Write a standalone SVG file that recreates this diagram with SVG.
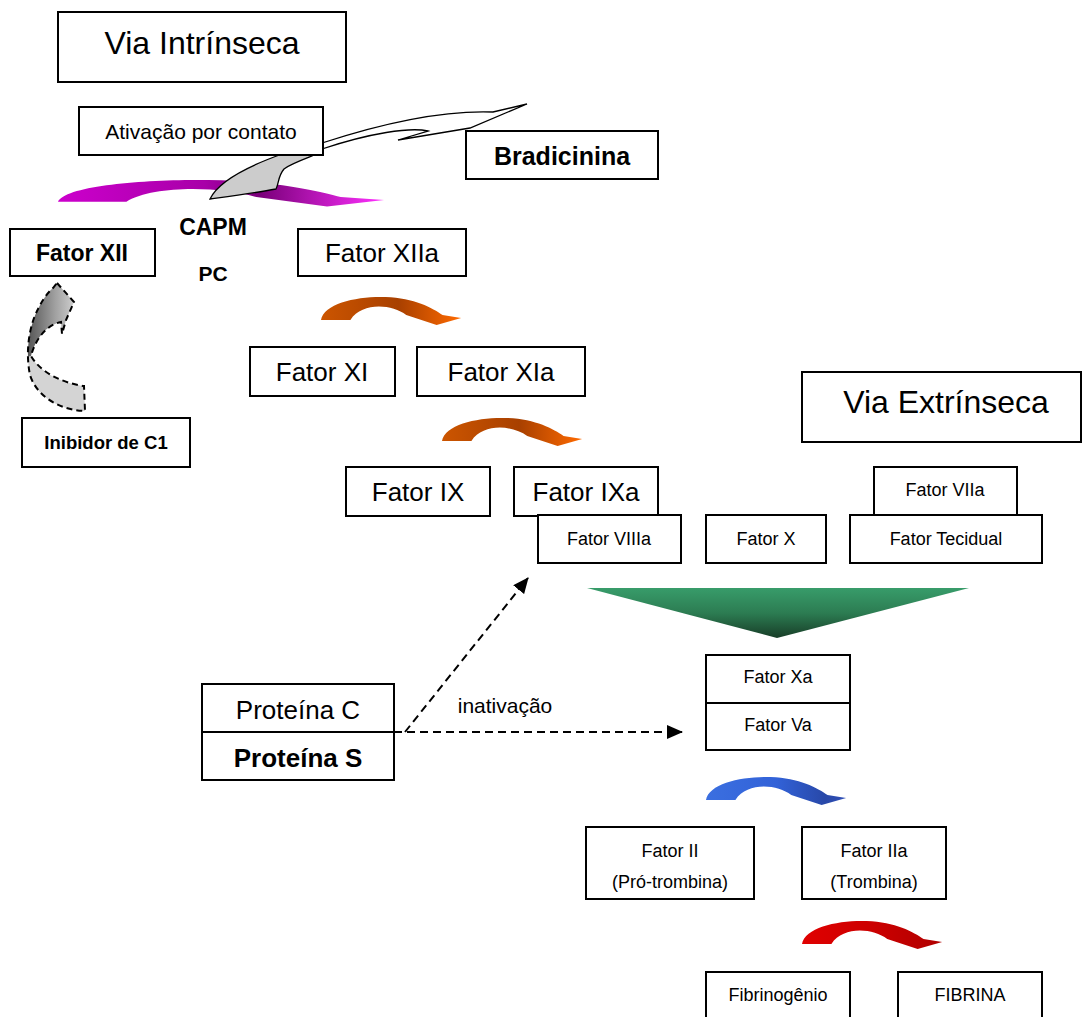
<svg xmlns="http://www.w3.org/2000/svg" width="1083" height="1017" viewBox="0 0 1083 1017">
<style>
.box{fill:#fff;stroke:#000;stroke-width:2}
.t{font-family:"Liberation Sans",Arial,sans-serif;fill:#000;text-anchor:middle}
.b{font-weight:bold}
.s18{font-size:18px}
.s21{font-size:21px}
.s26{font-size:26px}
.s32{font-size:32px}
.dash{fill:none;stroke:#000;stroke-width:2;stroke-dasharray:8 5}
</style>
<defs>
<path id="carrow" d="M 0,23 C 3,6 38,-1 66,0 C 95,1 114,11 124,18 L 143,21 L 118,28 L 87,18 C 72,7 42,5 30,23 Z"/>
<linearGradient id="gMag" x1="0" y1="0" x2="1" y2="0">
<stop offset="0" stop-color="#cc00cc"/><stop offset="0.45" stop-color="#a800a8"/><stop offset="0.62" stop-color="#7a007a"/><stop offset="1" stop-color="#ff30ff"/>
</linearGradient>
<linearGradient id="gOr" x1="0" y1="0" x2="1" y2="0">
<stop offset="0" stop-color="#cc5500"/><stop offset="0.55" stop-color="#a84000"/><stop offset="1" stop-color="#ff6a00"/>
</linearGradient>
<linearGradient id="gBlue" x1="0" y1="0" x2="1" y2="0">
<stop offset="0" stop-color="#3b6fe0"/><stop offset="0.5" stop-color="#3262d8"/><stop offset="0.85" stop-color="#2848a8"/><stop offset="1" stop-color="#3050b8"/>
</linearGradient>
<linearGradient id="gRed" x1="0" y1="0" x2="1" y2="0">
<stop offset="0" stop-color="#e00000"/><stop offset="0.5" stop-color="#cc0000"/><stop offset="1" stop-color="#b00000"/>
</linearGradient>
<linearGradient id="gGreen" x1="0" y1="0" x2="0" y2="1">
<stop offset="0" stop-color="#389c6a"/><stop offset="0.5" stop-color="#2c7c52"/><stop offset="1" stop-color="#183e28"/>
</linearGradient>
<linearGradient id="gGreyUp" x1="0" y1="0" x2="1" y2="0">
<stop offset="0" stop-color="#404040"/><stop offset="0.5" stop-color="#a0a0a0"/><stop offset="1" stop-color="#f4f4f4"/>
</linearGradient>
<clipPath id="cpGrey">
<path d="M 57,283 L 74,302 L 66,320 L 62,334 L 61,322 C 46,325 35,340 31,356 C 40,372 62,383 84,386 L 85,411 C 58,410 36,395 30,375 C 26,355 28,335 34,318 C 40,303 47,293 53,288 Z"/>
</clipPath>
<marker id="ah" markerWidth="16" markerHeight="14" refX="15" refY="7" orient="auto" markerUnits="userSpaceOnUse">
<path d="M0,0 L16,7 L0,14 Z" fill="#000"/>
</marker>
</defs>

<g id="curved-arrows">
<use href="#carrow" fill="url(#gMag)" transform="translate(58,180) scale(2.28,0.95)"/>
<use href="#carrow" fill="url(#gOr)" transform="translate(321,297) scale(0.98,1)"/>
<use href="#carrow" fill="url(#gOr)" transform="translate(442,418) scale(0.98,1)"/>
<use href="#carrow" fill="url(#gBlue)" transform="translate(706,777) scale(0.98,1)"/>
<use href="#carrow" fill="url(#gRed)" transform="translate(802,921) scale(0.98,1)"/>
</g>

<g id="swoosh">
<path d="M 210,199 C 218,182 245,167 285,153 L 322,140 L 322,152 C 308,158 292,163 284,169 C 278,176 279,183 276,189 C 255,193 232,196 210,199 Z" fill="#cccccc" stroke="#000" stroke-width="1.3"/>
<path d="M 322,143 C 380,124 440,110 493,112 L 527,104 L 470,128 L 398,140 L 428,131 C 410,127 370,133 322,149" fill="none" stroke="#000" stroke-width="1.3"/>
</g>

<g id="inhib-arrow">
<g clip-path="url(#cpGrey)">
<rect x="20" y="278" width="70" height="80" fill="url(#gGreyUp)"/>
<path d="M 20,358 L 31,356 C 40,372 62,383 84,386 L 95,386 L 95,420 L 20,420 Z" fill="#d4d4d4"/>
</g>
<path d="M 57,283 L 74,302 L 66,320 L 62,334 L 61,322 C 46,325 35,340 31,356 C 40,372 62,383 84,386 L 85,411 C 58,410 36,395 30,375 C 26,355 28,335 34,318 C 40,303 47,293 53,288 Z" fill="none" stroke="#000" stroke-width="2" stroke-dasharray="6 4"/>
</g>

<g id="via-intrinseca"><rect class="box" x="58" y="12" width="288" height="70"/><text class="t s32" x="202" y="54">Via Intrínseca</text></g>
<g id="ativacao"><rect class="box" x="79" y="107" width="244" height="48"/><text class="t s21" x="201" y="139">Ativação por contato</text></g>
<g id="bradicinina"><rect class="box" x="466" y="131" width="192" height="48"/><text class="t b" font-size="25" x="562" y="165">Bradicinina</text></g>
<g id="fator-xii"><rect class="box" x="10" y="229" width="145" height="47"/><text class="t b" font-size="23" x="82" y="261">Fator XII</text></g>
<g id="capm"><text class="t b" font-size="23" x="213" y="235">CAPM</text></g>
<g id="pc"><text class="t b" font-size="21" x="213" y="281">PC</text></g>
<g id="fator-xiia"><rect class="box" x="298" y="229" width="168" height="47"/><text class="t s26" x="382" y="262">Fator XIIa</text></g>
<g id="fator-xi"><rect class="box" x="250" y="347" width="145" height="49"/><text class="t s26" x="322" y="381">Fator XI</text></g>
<g id="fator-xia"><rect class="box" x="417" y="347" width="168" height="49"/><text class="t s26" x="501" y="381">Fator XIa</text></g>
<g id="via-extrinseca"><rect class="box" x="802" y="372" width="279" height="70"/><text class="t s32" x="946" y="413">Via Extrínseca</text></g>
<g id="inibidor"><rect class="box" x="22" y="418" width="168" height="49" stroke-width="3.5"/><text class="t b" font-size="18.5" x="106" y="449">Inibidor de C1</text></g>
<g id="fator-ix"><rect class="box" x="346" y="467" width="144" height="49"/><text class="t s26" x="418" y="501">Fator IX</text></g>
<g id="fator-ixa"><rect class="box" x="514" y="467" width="144" height="49"/><text class="t s26" x="586" y="501">Fator IXa</text></g>
<g id="fator-viiia"><rect class="box" x="538" y="515" width="143" height="48"/><text class="t s18" x="609" y="545">Fator VIIIa</text></g>
<g id="fator-x"><rect class="box" x="706" y="515" width="120" height="48"/><text class="t s18" x="766" y="545">Fator X</text></g>
<g id="fator-viia"><rect class="box" x="874" y="467" width="143" height="48"/><text class="t s18" x="945" y="496">Fator VIIa</text></g>
<g id="fator-tecidual"><rect class="box" x="850" y="515" width="192" height="48"/><text class="t s18" x="946" y="545">Fator Tecidual</text></g>

<g id="convergence"><polygon points="587,588 969,588 777,638" fill="url(#gGreen)"/></g>

<g id="fator-xa-va"><rect class="box" x="706" y="655" width="144" height="95"/><line x1="706" y1="703" x2="850" y2="703" stroke="#000" stroke-width="2"/><text class="t s18" x="778" y="683">Fator Xa</text><text class="t s18" x="778" y="731">Fator Va</text></g>

<g id="proteina"><rect class="box" x="202" y="684" width="192" height="96"/><line x1="202" y1="732" x2="394" y2="732" stroke="#000" stroke-width="2"/><text class="t s26" x="298" y="719">Proteína C</text><text class="t b s26" x="298" y="767">Proteína S</text></g>

<g id="connectors">
<line class="dash" x1="405" y1="732" x2="528" y2="578" marker-end="url(#ah)"/>
<line class="dash" x1="394" y1="732" x2="682" y2="732" marker-end="url(#ah)"/>
<text class="t s21" x="505" y="713">inativação</text>
</g>

<g id="fator-ii"><rect class="box" x="586" y="827" width="168" height="72"/><text class="t s18" x="670" y="857">Fator II</text><text class="t s18" x="670" y="888">(Pró-trombina)</text></g>
<g id="fator-iia"><rect class="box" x="802" y="827" width="144" height="72"/><text class="t s18" x="874" y="857">Fator IIa</text><text class="t s18" x="874" y="888">(Trombina)</text></g>
<g id="fibrinogenio"><rect class="box" x="706" y="972" width="144" height="60"/><text class="t s18" x="778" y="1001">Fibrinogênio</text></g>
<g id="fibrina"><rect class="box" x="898" y="972" width="144" height="60"/><text class="t s18" x="970" y="1001">FIBRINA</text></g>
</svg>
